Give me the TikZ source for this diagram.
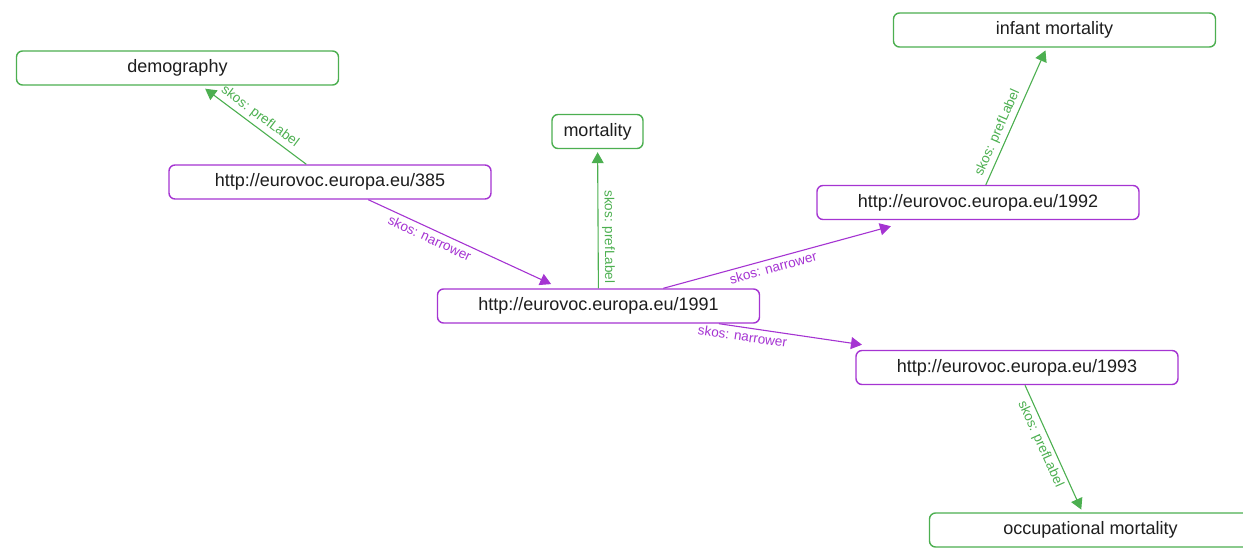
\documentclass[tikz,border=0pt]{standalone}
\usepackage{fontspec}
\setmainfont{Liberation Sans}
\usetikzlibrary{arrows.meta}
\definecolor{skosgreen}{RGB}{76,175,80}
\definecolor{skospurple}{RGB}{165,52,210}
\definecolor{nodetext}{RGB}{30,30,30}

\begin{document}
\begin{tikzpicture}[x=1pt,y=-1pt,>={Triangle[length=11pt,width=12pt]}]
        \tikzstyle{resource}=[rectangle,rounded corners=6pt,line width=1.4pt,draw=skospurple,fill=white,minimum width=322pt,minimum height=34pt,text=nodetext,font=\fontsize{18}{20}\selectfont]
        \tikzstyle{concept}=[resource,draw=skosgreen]
        \tikzstyle{pref}=[->,line width=1.1pt,color=skosgreen]
        \tikzstyle{narrower}=[->,line width=1.1pt,color=skospurple]
        \tikzstyle{rel}=[sloped,font=\fontsize{13.5}{14}\selectfont,inner sep=3.5pt]

        \useasboundingbox (0,0) rectangle (1243,548);

        \node [concept] (demog) at (177.5,68) {demography};
        \node [concept,minimum width=91pt] (mortal) at (597.5,131.5) {mortality};
        \node [concept] (infant) at (1054.5,30) {infant mortality};
        \node [concept] (occup) at (1090.5,530) {occupational mortality};

        \node [resource] (r1992) at (978,202.5) {http://eurovoc.europa.eu/1992} %narrower 1
            edge [pref,shorten >=3pt] node [rel,above,pos=0.35] {skos: prefLabel} (infant);
        \node [resource] (r1993) at (1017,367.5) {http://eurovoc.europa.eu/1993} %narrower 2
            edge [pref,shorten >=3pt] node [rel,below,pos=0.43] {skos: prefLabel} (occup);
        \node [resource] (r1991) at (598.5,306) {http://eurovoc.europa.eu/1991} %middle
            edge [pref,shorten >=3pt] node [rel,above,pos=0.37] {skos: prefLabel} (mortal)
            edge [narrower,shorten >=23pt] node [rel,below,pos=0.43] {skos: narrower} (r1992)
            edge [narrower,shorten >=35pt] node [rel,below,pos=0.14] {skos: narrower} (r1993);
        \node [resource] (r385) at (330,182) {http://eurovoc.europa.eu/385} %broader
            edge [pref,shorten >=5pt] node [rel,above,pos=0.5] {skos: prefLabel} (demog)
            edge [narrower,shorten >=10pt] node [rel,below,pos=0.34] {skos: narrower} (r1991);
\end{tikzpicture}
\end{document}
